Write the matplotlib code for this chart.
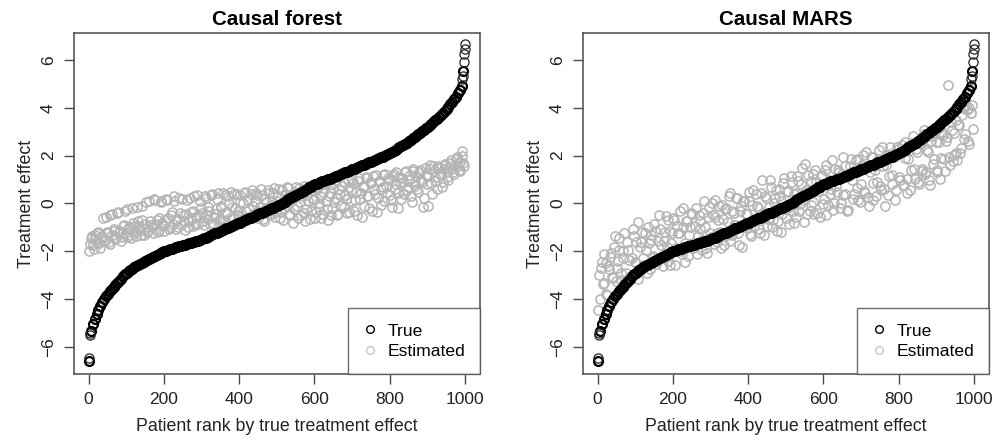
import numpy as np
import matplotlib
matplotlib.use('Agg')
import matplotlib.pyplot as plt
from matplotlib.lines import Line2D

plt.rcParams['font.family'] = ['Liberation Sans', 'DejaVu Sans']

# patient rank, two interleaved samples of every 5th patient out of 1000
rank_a = np.arange(1, 1000, 5)
rank_b = np.arange(3, 1000, 5)

# true treatment effect (at rank_a)
true_effect = [
    -6.6, -5.35, -5.05, -4.85, -4.62, -4.45, -4.28, -4.12, -4.0, -3.88,
    -3.78, -3.68, -3.58, -3.5, -3.41, -3.32, -3.23, -3.14, -3.05, -2.96,
    -2.89, -2.83, -2.78, -2.72, -2.66, -2.61, -2.56, -2.52, -2.48, -2.44,
    -2.4, -2.36, -2.32, -2.28, -2.24, -2.2, -2.15, -2.11, -2.07, -2.03,
    -2.0, -1.97, -1.94, -1.92, -1.89, -1.87, -1.84, -1.82, -1.79, -1.77,
    -1.75, -1.72, -1.7, -1.67, -1.65, -1.62, -1.6, -1.57, -1.55, -1.52,
    -1.5, -1.46, -1.43, -1.39, -1.36, -1.32, -1.29, -1.25, -1.22, -1.18,
    -1.15, -1.11, -1.08, -1.04, -1.01, -0.97, -0.94, -0.9, -0.87, -0.83,
    -0.8, -0.76, -0.73, -0.69, -0.66, -0.62, -0.59, -0.55, -0.52, -0.48,
    -0.45, -0.41, -0.38, -0.34, -0.31, -0.27, -0.24, -0.2, -0.17, -0.13,
    -0.1, -0.05, -0.01, 0.04, 0.08, 0.13, 0.17, 0.22, 0.26, 0.31,
    0.35, 0.4, 0.44, 0.49, 0.53, 0.58, 0.62, 0.67, 0.71, 0.76,
    0.8, 0.83, 0.86, 0.89, 0.92, 0.95, 0.98, 1.01, 1.04, 1.07,
    1.1, 1.13, 1.17, 1.2, 1.23, 1.27, 1.3, 1.33, 1.36, 1.4,
    1.43, 1.46, 1.5, 1.53, 1.56, 1.59, 1.62, 1.66, 1.69, 1.72,
    1.75, 1.79, 1.82, 1.86, 1.89, 1.93, 1.96, 2.0, 2.03, 2.07,
    2.1, 2.15, 2.2, 2.25, 2.3, 2.35, 2.4, 2.45, 2.5, 2.55,
    2.6, 2.66, 2.72, 2.78, 2.84, 2.9, 2.96, 3.02, 3.08, 3.14,
    3.2, 3.27, 3.34, 3.41, 3.48, 3.55, 3.63, 3.71, 3.79, 3.87,
    3.95, 4.05, 4.15, 4.25, 4.35, 4.47, 4.6, 4.75, 4.9, 5.55,
]
# the extreme patients at both ends
extreme_rank = [2, 3, 4, 993, 995, 997, 998, 999, 1000]
extreme_effect = [-6.45, -5.5, -5.42, 5.2, 5.35, 5.9, 6.25, 6.45, 6.65]

# causal forest estimates (at rank_a and rank_b)
forest_a = [
    -2.0, -1.45, -1.75, -1.3, -1.6, -1.2, -1.85, -1.35, -1.55, -0.55,
    -1.25, -1.7, -0.45, -1.15, -1.5, -0.4, -1.2, -1.55, -0.95, -0.3,
    -1.4, -1.05, -1.3, -0.2, -0.95, -1.35, -0.75, -1.1, -0.1, -1.3,
    -0.85, -1.2, 0.1, -0.9, -1.25, 0.15, -0.7, -1.1, 0.05, -0.8,
    -1.15, 0.2, -0.6, -1.0, -0.35, 0.1, -1.05, -0.65, 0.25, -0.9,
    -0.5, -1.1, 0.15, -0.7, -0.35, -0.95, 0.3, -0.55, -0.85, 0.1,
    -0.4, -0.9, 0.25, -0.65, -0.3, 0.35, -0.8, -0.45, 0.2, -0.7,
    -0.2, 0.45, -0.75, -0.35, 0.3, -0.6, -0.15, 0.4, -0.8, -0.3,
    0.35, -0.55, 0.0, 0.5, -0.7, -0.25, 0.4, -0.45, 0.1, 0.45,
    -0.6, -0.15, 0.35, -0.75, 0.05, 0.55, -0.4, -0.05, 0.45, -0.55,
    0.1, 0.6, -0.35, -0.7, 0.4, -0.1, 0.65, -0.5, 0.2, -0.25,
    0.7, -0.6, 0.05, 0.55, -0.4, -0.75, 0.35, 0.75, -0.3, 0.15,
    -0.6, 0.6, -0.15, 0.3, -0.45, 0.8, 0.1, -0.7, 0.45, -0.2,
    0.85, 0.25, -0.5, 0.6, -0.05, 0.9, 0.35, -0.4, 0.7, 0.1,
    1.0, -0.3, 0.5, 0.95, 0.2, -0.55, 0.75, 1.05, 0.3, -0.2,
    0.85, 1.15, 0.4, -0.35, 0.95, 0.6, 1.2, 0.1, 0.75, 1.05,
    0.35, -0.15, 1.25, 0.8, 0.45, 1.1, 0.2, 0.9, 1.3, 0.55,
    1.0, 0.3, 1.35, 0.75, 1.15, 0.5, 1.4, 0.9, 0.25, 1.2,
    -0.1, 1.45, 0.85, 1.55, 1.1, 0.6, 1.5, 1.2, 0.9, 1.6,
    1.3, 1.0, 1.7, 1.45, 1.25, 1.85, 1.55, 1.35, 2.0, 1.7,
]
forest_b = [
    -1.7, -1.35, -1.9, -1.5, -1.25, -1.65, -1.4, -0.6, -1.55, -1.2,
    -1.6, -0.5, -1.3, -1.05, -1.45, -0.35, -1.15, -1.4, -0.9, -1.25,
    -0.25, -1.0, -1.45, -0.8, -1.2, -0.15, -0.95, -1.3, -0.7, -1.05,
    0.05, -1.15, -0.75, -1.0, 0.2, -0.85, -1.2, -0.6, 0.1, -0.95,
    -0.7, 0.15, -1.05, -0.5, -0.85, 0.3, -0.65, -1.0, -0.4, 0.2,
    -0.75, -0.45, -1.0, 0.25, -0.6, -0.3, -0.85, 0.35, -0.5, -0.2,
    -0.75, 0.3, -0.45, -0.15, -0.85, 0.4, -0.55, -0.25, 0.45, -0.65,
    -0.1, -0.7, 0.35, -0.4, 0.0, 0.5, -0.6, -0.2, 0.4, -0.5,
    0.05, -0.75, 0.45, -0.3, 0.15, -0.6, 0.55, -0.1, -0.45, 0.35,
    -0.3, 0.6, -0.65, 0.2, -0.2, 0.45, -0.5, 0.1, 0.65, -0.35,
    0.3, -0.6, 0.55, -0.2, 0.0, 0.7, -0.45, 0.35, -0.8, 0.5,
    -0.1, 0.65, -0.5, 0.3, 0.75, -0.25, 0.1, -0.65, 0.55, 0.2,
    -0.35, 0.7, 0.0, -0.6, 0.5, 0.85, -0.25, 0.3, -0.5, 0.65,
    0.05, 0.95, -0.45, 0.4, 0.75, -0.15, 0.2, 1.0, -0.35, 0.55,
    0.85, 0.15, -0.5, 1.05, 0.45, 0.7, -0.1, 1.1, 0.3, 0.9,
    -0.3, 0.6, 1.2, 0.25, 0.95, -0.05, 0.7, 1.25, 0.45, 1.0,
    0.15, 1.15, 0.6, 1.3, -0.2, 0.85, 1.05, 0.4, 1.35, 0.7,
    1.2, 0.05, 1.45, 0.9, 0.6, 1.3, 1.0, -0.15, 1.5, 0.8,
    1.15, 1.6, 0.4, 1.35, 0.95, 1.55, 1.25, 0.7, 1.45, 1.65,
    1.1, 1.5, 1.8, 1.3, 1.6, 1.95, 1.4, 1.75, 2.2, 1.55,
]

# causal MARS estimates (at rank_a and rank_b)
mars_a = [
    -4.45, -4.0, -2.45, -3.32, -2.5, -3.82, -2.75, -2.08, -3.12, -1.36,
    -2.7, -1.96, -3.22, -2.28, -1.24, -2.9, -1.96, -3.12, -2.28, -1.34,
    -2.5, -0.77, -2.73, -1.6, -2.26, -1.23, -2.89, -1.66, -1.32, -2.29,
    -0.85, -2.52, -1.58, -1.05, -2.21, -1.58, -0.54, -2.41, -1.17, -1.64,
    -0.6, -2.58, -0.95, -1.23, -2.0, -0.18, -1.65, -0.73, -2.2, -0.98,
    -0.45, -1.73, -0.2, -1.38, -0.75, -1.93, -0.4, -0.98, -2.05, -0.13,
    -1.4, -0.48, 0.15, -1.63, -0.7, -1.18, -0.05, -1.73, -0.2, -0.78,
    0.45, -1.33, -0.4, -0.88, 0.25, -1.73, -0.1, 0.12, -0.95, -0.43,
    0.5, -1.28, -0.05, -0.93, 0.4, -0.18, -1.25, 0.97, -0.6, 0.32,
    -0.95, -0.13, 0.7, -0.68, 0.25, -1.13, 0.6, 0.12, -0.45, 1.07,
    -0.6, 0.53, -0.15, 0.88, -0.8, 0.43, 1.15, -0.32, 0.8, 0.13,
    1.65, -0.42, 0.5, -0.07, 1.25, -0.42, 0.9, 0.53, -0.55, 1.18,
    0.2, 1.63, -0.05, 0.98, 0.6, -0.27, 1.45, 0.48, 1.3, 0.03,
    1.95, 0.38, 1.1, -0.27, 1.55, 0.98, 0.4, 1.83, 0.15, 1.38,
    0.8, 2.03, 0.45, 1.58, -0.1, 1.93, 0.85, 1.38, 0.3, 1.83,
    0.75, 2.38, 0.6, 1.63, 0.35, 2.08, 1.2, 1.93, 0.15, 2.38,
    1.1, 2.13, 0.76, 2.59, 1.02, 1.85, 0.58, 2.51, 1.44, 2.27,
    0.9, 2.53, 1.36, 3.09, 1.22, 2.25, 0.98, 2.61, 1.64, 2.97,
    1.3, 2.56, 1.02, 2.98, 1.84, 2.6, 4.95, 1.62, 3.08, 2.04,
    3.5, 1.8, 3.3, 2.3, 4.0, 2.9, 3.9, 2.5, 3.8, 4.1,
]
mars_b = [
    -3.0, -2.7, -3.35, -2.12, -3.8, -2.62, -2.25, -3.08, -1.82, -3.26,
    -2.4, -1.46, -2.92, -1.98, -3.34, -1.6, -2.36, -3.02, -1.08, -2.44,
    -1.6, -3.17, -1.83, -1.2, -2.56, -1.93, -0.99, -2.76, -1.52, -2.19,
    -1.15, -2.42, -0.48, -1.75, -2.61, -1.18, -1.84, -0.71, -2.57, -1.24,
    -0.7, -1.88, -1.25, -0.33, -2.1, -0.98, -2.45, -0.73, -1.3, -0.38,
    -1.85, -0.93, -2.1, -0.48, -1.05, -1.53, 0.1, -1.88, -0.55, -1.23,
    0.0, -1.68, -0.55, -1.23, -0.1, -1.88, -0.65, -0.23, -1.3, 0.32,
    -1.55, -0.33, -0.9, 0.22, -1.25, -0.33, -1.8, 0.12, -0.45, -1.03,
    0.1, -1.38, 0.55, -0.73, -0.1, -1.08, 0.45, -0.43, -1.3, 0.22,
    -0.65, 0.97, -1.0, 0.02, 0.55, -0.73, 0.3, -1.18, 0.85, -0.23,
    0.5, -0.87, 1.15, -0.32, 0.4, -0.57, 0.95, -0.02, 1.5, -0.77,
    0.55, 1.18, -0.3, 0.93, 0.05, 1.38, -0.4, 0.63, 1.15, -0.02,
    1.4, -0.47, 0.95, 0.38, 1.8, 0.03, 0.75, 1.38, -0.2, 1.23,
    0.35, 1.58, -0.3, 1.13, 1.85, 0.18, 1.4, 0.63, 1.85, 0.08,
    1.6, 0.53, 2.15, 0.28, 1.3, 1.93, 0.15, 1.58, 0.9, 2.23,
    0.55, 1.58, -0.1, 2.03, 1.15, 2.38, 0.8, 1.93, 0.55, 2.28,
    1.0, 2.43, 0.76, 1.89, 0.42, 2.25, 1.38, 2.81, 1.04, 2.17,
    0.8, 2.53, 1.46, 2.89, 1.32, 2.15, 0.78, 2.81, 1.84, 2.57,
    1.4, 3.16, 1.92, 2.88, 1.34, 2.8, 1.96, 3.42, 1.78, 2.94,
    2.1, 3.3, 2.1, 3.7, 2.7, 4.1, 2.6, 4.0, 3.8, 3.1,
]

titles = ['Causal forest', 'Causal MARS']
estimates = [(forest_a, forest_b), (mars_a, mars_b)]

est_color = '#b4b4b4'
frame_color = '#4a4a4a'
text_color = '#222222'


def draw_panel(ax, title, est):
    est_a, est_b = est
    ax.plot(rank_a, est_a, 'o', mfc='none', mec=est_color, ms=6.6, mew=1.1)
    ax.plot(rank_b, est_b, 'o', mfc='none', mec=est_color, ms=6.6, mew=1.1)
    ax.plot(rank_a, true_effect, 'o', mfc='none', mec='black', ms=6.4, mew=1.6)
    ax.plot(extreme_rank, extreme_effect, 'o', mfc='none', mec='#222222', ms=6.6, mew=0.9)

    ax.set_xlim(-39, 1040)
    ax.set_ylim(-7.13, 7.13)
    ax.set_xticks([0, 200, 400, 600, 800, 1000])
    ax.set_yticks([-6, -4, -2, 0, 2, 4, 6])
    ax.set_yticklabels(['\u22126', '\u22124', '\u22122', '0', '2', '4', '6'], rotation=90, va='center')
    ax.tick_params(direction='out', length=7, width=1, color=frame_color, labelsize=12.5, labelcolor=text_color, pad=6)
    for s in ax.spines.values():
        s.set_color(frame_color)
        s.set_linewidth(1.1)
    ax.set_title(title, fontsize=14.8, fontweight='bold', pad=6)
    ax.set_xlabel('Patient rank by true treatment effect', fontsize=12.8, color=text_color, labelpad=8)
    ax.set_ylabel('Treatment effect', fontsize=12.8, color=text_color, labelpad=4)

    handles = [Line2D([], [], ls='none', marker='o', mfc='none', mec='black', ms=5.5, mew=1.0),
               Line2D([], [], ls='none', marker='o', mfc='none', mec='#c8c8c8', ms=5.5, mew=1.0)]
    leg = ax.legend(handles, ['True', 'Estimated'], loc='lower right', fontsize=12.6,
                    frameon=True, fancybox=False, borderaxespad=0, borderpad=0.85,
                    handlelength=0.8, handletextpad=0.6, labelspacing=0.3)
    leg.get_frame().set_edgecolor(frame_color)
    leg.get_frame().set_linewidth(1.0)


fig = plt.figure(figsize=(10, 4.43), dpi=100)
ax1 = fig.add_axes([0.074, 0.1558, 0.406, 0.7697])
ax2 = fig.add_axes([0.583, 0.1558, 0.406, 0.7697])
for ax, title, est in zip([ax1, ax2], titles, estimates):
    draw_panel(ax, title, est)

fig.savefig('out.png', dpi=100)
